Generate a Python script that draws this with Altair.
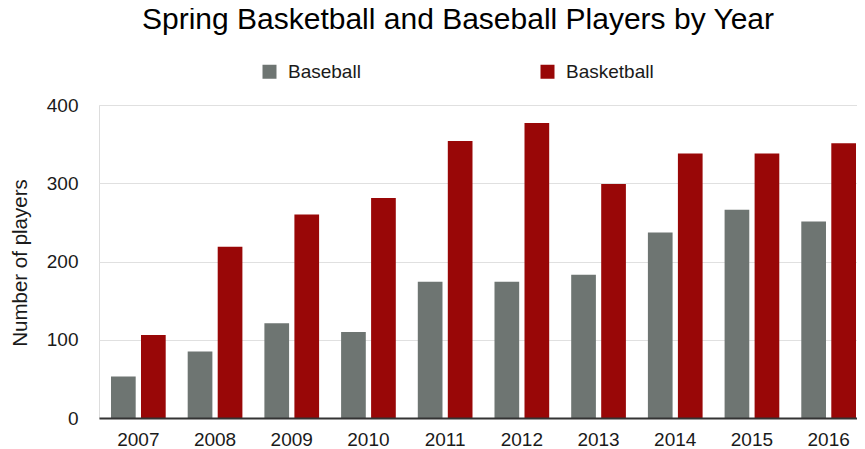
import altair as alt
import pandas as pd

years = ["2007", "2008", "2009", "2010", "2011", "2012", "2013", "2014", "2015", "2016"]
baseball = [53, 85, 121, 110, 174, 174, 183, 237, 266, 251]
basketball = [106, 219, 260, 281, 354, 377, 299, 338, 338, 351]
series = ["Baseball", "Basketball"]
colors = ["#6e7572", "#990707"]
y_ticks = [0, 100, 200, 300, 400]

rows = []
for yr, b, k in zip(years, baseball, basketball):
    rows.append({"year": yr, "sport": series[0], "players": b})
    rows.append({"year": yr, "sport": series[1], "players": k})
df = pd.DataFrame(rows)

FONT = "Liberation Sans"

chart = alt.Chart(df).mark_bar().encode(
    x=alt.X(
        "year:N",
        sort=years,
        title=None,
        scale=alt.Scale(paddingInner=0.2868, paddingOuter=0.0847, align=0.923),
        axis=alt.Axis(
            labelAngle=0, labelFontSize=19, labelPadding=12, ticks=False,
            domainColor="#333333", domainWidth=2, labelColor="#1a1a1a",
            grid=False, labelFont=FONT, zindex=1,
        ),
    ),
    xOffset=alt.XOffset("sport:N", sort=series,
                        scale=alt.Scale(paddingInner=0.177, paddingOuter=0)),
    y=alt.Y(
        "players:Q",
        scale=alt.Scale(domain=[0, 400]),
        axis=alt.Axis(
            values=y_ticks, title="Number of players", domain=False, ticks=False,
            labelPadding=21, labelFontSize=19, labelColor="#1a1a1a", labelFont=FONT,
            gridColor="#e0e0e0", gridWidth=1,
            titleFontSize=20.5, titleFontWeight="normal", titleFont=FONT,
            titleColor="#1a1a1a", titleX=-72.3, titleY=157.5,
            titleBaseline="alphabetic", titleAlign="center",
        ),
    ),
    color=alt.Color(
        "sport:N",
        scale=alt.Scale(domain=series, range=colors),
        legend=alt.Legend(
            title=None, orient="none", legendX=161, legendY=-43,
            direction="horizontal", columnPadding=177, symbolType="square",
            symbolSize=196, symbolStrokeWidth=0, labelFontSize=19,
            labelOffset=9, labelFont=FONT, labelColor="#1a1a1a",
        ),
    ),
).properties(
    width=758,
    height=313,
    title=alt.TitleParams(
        "Spring Basketball and Baseball Players by Year",
        fontSize=30, font=FONT, fontWeight="normal", anchor="middle",
        dx=-20, baseline="alphabetic", offset=3, color="#000000",
    ),
    autosize=alt.AutoSizeParams(type="none"),
    padding={"left": 91, "top": 97, "right": 0, "bottom": 31},
).configure_view(stroke=None).configure(background="white")

chart.save("out.html", embed_options={"renderer": "svg", "actions": False})
